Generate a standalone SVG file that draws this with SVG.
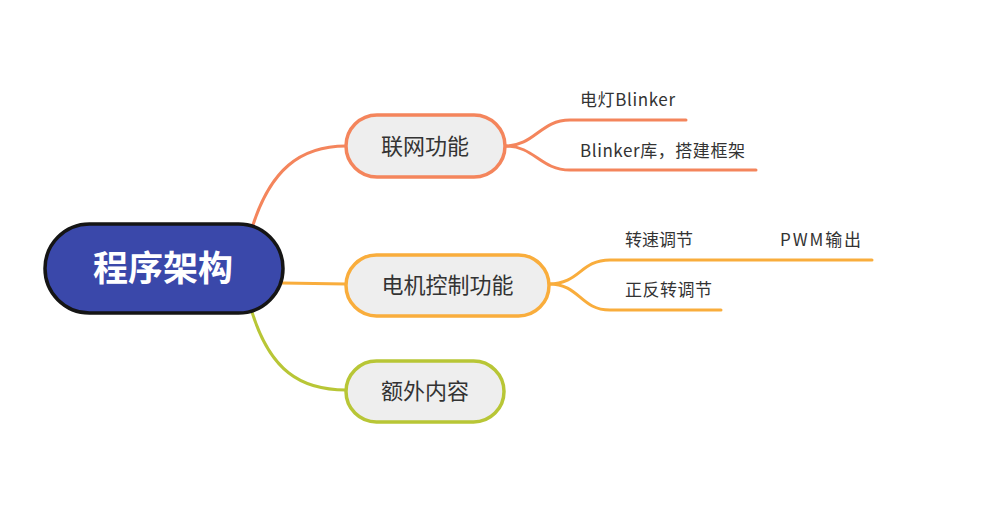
<svg xmlns="http://www.w3.org/2000/svg" width="992" height="526" viewBox="0 0 992 526">
<style>
.t{font-family:"Noto Sans CJK SC","Noto Sans",sans-serif;fill:#333333}
.sub{font-size:22px}
.leaf{font-size:17px}
.c{fill:none;stroke-width:3;stroke-linecap:round}
.n{fill:#EEEEEE;stroke-width:3.5}
</style>
<rect width="992" height="526" fill="#FFFFFF"/>
<g id="connectors">
<path class="c" stroke="#F4855C" d="M252 228 C270 170 300 146 346 146"/>
<path class="c" stroke="#F9AD3C" d="M282 283 L346 284"/>
<path class="c" stroke="#B8C636" d="M252 312 C270 370 300 390 346 390"/>
<path class="c" stroke="#F4855C" d="M505 146 C535 146 540 120 570 120 L686 120"/>
<path class="c" stroke="#F4855C" d="M505 146 C535 146 540 170 570 170 L756 170"/>
<path class="c" stroke="#F9AD3C" d="M549 284 C580 284 580 260 610 260 L872 260"/>
<path class="c" stroke="#F9AD3C" d="M549 284 C580 284 580 310 610 310 L721 310"/>
</g>
<g id="root">
<rect x="45" y="224" width="238" height="89" rx="44.5" fill="#3A48AA" stroke="#151515" stroke-width="3.5"/>
<text x="163" y="281" text-anchor="middle" font-family="Noto Sans CJK SC,sans-serif" font-weight="bold" font-size="35" fill="#FFFFFF">程序架构</text>
</g>
<g id="n1">
<rect class="n" x="346" y="115" width="159" height="62" rx="31" stroke="#F4855C"/>
<text class="t sub" x="425" y="154" text-anchor="middle">联网功能</text>
</g>
<g id="n2">
<rect class="n" x="346" y="255" width="203" height="61" rx="30.5" stroke="#F9AD3C"/>
<text class="t sub" x="447.5" y="293" text-anchor="middle">电机控制功能</text>
</g>
<g id="n3">
<rect class="n" x="346" y="361" width="158" height="61" rx="30.5" stroke="#B8C636"/>
<text class="t sub" x="425" y="399" text-anchor="middle">额外内容</text>
</g>
<g id="leaf1"><text class="t leaf" x="580" y="106" textLength="95">电灯Blinker</text></g>
<g id="leaf2"><text class="t leaf" x="580" y="157" textLength="165">Blinker库，搭建框架</text></g>
<g id="leaf3"><text class="t leaf" x="625" y="246" textLength="68">转速调节</text></g>
<g id="leaf4"><text class="t leaf" x="780" y="246" textLength="81">PWM输出</text></g>
<g id="leaf5"><text class="t leaf" x="625" y="296" textLength="87">正反转调节</text></g>
</svg>
